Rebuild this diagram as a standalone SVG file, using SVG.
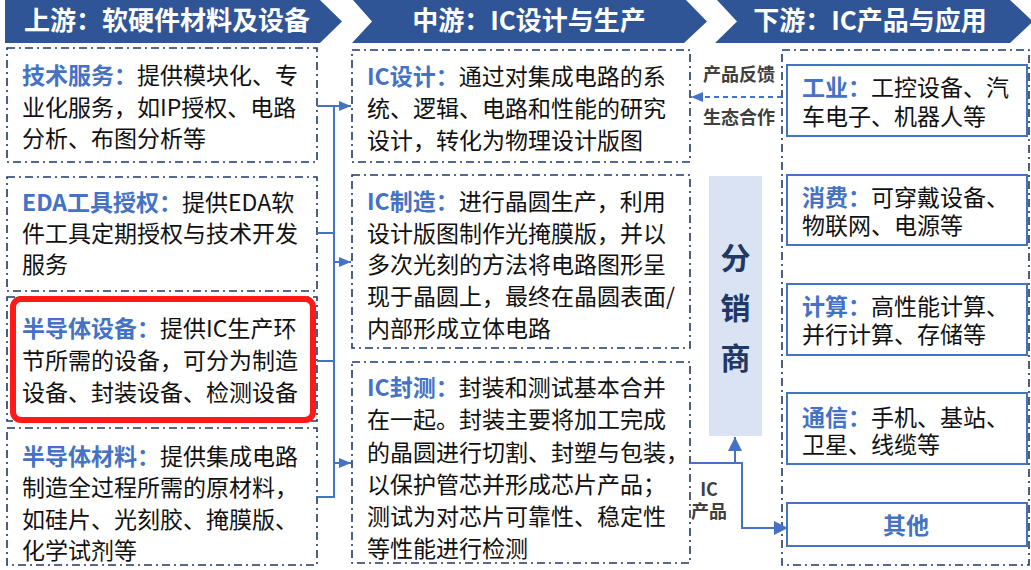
<svg xmlns="http://www.w3.org/2000/svg" width="1031" height="570" viewBox="0 0 1031 570">
<defs>
<style>
.hd{fill:#2F5597}
.ht{font-family:"Noto Sans CJK SC","Noto Sans",sans-serif;font-size:26px;font-weight:bold;fill:#fff;text-anchor:middle}
.db{fill:#fff;stroke:#1F3864;stroke-width:1.6;stroke-dasharray:8 4 2 4}
.t{font-family:"Noto Sans CJK SC","Noto Sans",sans-serif;font-size:23px;fill:#111}
.lb{font-weight:bold;fill:#4472C4}
.rb{fill:#fff;stroke:#4472C4;stroke-width:2}
.cn{fill:none;stroke:#4472C4;stroke-width:2}
.gl{font-family:"Noto Sans CJK SC","Noto Sans",sans-serif;font-size:18px;font-weight:bold;fill:#404040;text-anchor:middle}
.ds{font-family:"Noto Sans CJK SC","Noto Sans",sans-serif;font-size:30px;font-weight:bold;fill:#1F3864;text-anchor:middle}
</style>
<marker id="ah" viewBox="0 0 12 10" refX="12" refY="5" markerWidth="12" markerHeight="10" markerUnits="userSpaceOnUse" orient="auto">
<path d="M0,0 L12,5 L0,10 z" fill="#4472C4"/>
</marker>
<marker id="ah2" viewBox="0 0 14 14" refX="14" refY="7" markerWidth="14" markerHeight="14" markerUnits="userSpaceOnUse" orient="auto">
<path d="M0,0 L14,7 L0,14 z" fill="#4472C4"/>
</marker>
</defs>
<rect width="1031" height="570" fill="#fff"/>

<g id="header-upstream">
<polygon class="hd" points="5,0 320,0 342,21.5 320,43 5,43"/>
<text class="ht" x="167" y="30">上游：软硬件材料及设备</text>
</g>
<g id="header-midstream">
<polygon class="hd" points="353,0 686,0 707,21.5 684,43 352,43 372,21.5"/>
<text class="ht" x="529" y="30">中游：IC设计与生产</text>
</g>
<g id="header-downstream">
<polygon class="hd" points="717,0 1010,0 1033,21.5 1010,43 715,43 737,21.5"/>
<text class="ht" x="870" y="30">下游：IC产品与应用</text>
</g>

<g id="tech-service">
<rect class="db" x="7" y="48" width="310" height="114"/>
<text class="t"><tspan x="22" y="84"><tspan class="lb">技术服务：</tspan>提供模块化、专</tspan><tspan x="22" y="115.5">业化服务，如IP授权、电路</tspan><tspan x="22" y="147">分析、布图分析等</tspan></text>
</g>
<g id="eda">
<rect class="db" x="7" y="177" width="310" height="114"/>
<text class="t"><tspan x="22" y="211"><tspan class="lb">EDA工具授权：</tspan>提供EDA软</tspan><tspan x="22" y="242">件工具定期授权与技术开发</tspan><tspan x="22" y="273">服务</tspan></text>
</g>
<g id="semi-equipment">
<rect class="db" x="7" y="297" width="310" height="124"/>
<rect x="13" y="299" width="300" height="121" rx="8" fill="none" stroke="#FF1A1A" stroke-width="6"/>
<text class="t"><tspan x="22" y="337"><tspan class="lb">半导体设备：</tspan>提供IC生产环</tspan><tspan x="22" y="369">节所需的设备，可分为制造</tspan><tspan x="22" y="401">设备、封装设备、检测设备</tspan></text>
</g>
<g id="semi-material">
<rect class="db" x="7" y="428" width="310" height="137"/>
<text class="t"><tspan x="22" y="465"><tspan class="lb">半导体材料：</tspan>提供集成电路</tspan><tspan x="22" y="496">制造全过程所需的原材料，</tspan><tspan x="22" y="528">如硅片、光刻胶、掩膜版、</tspan><tspan x="22" y="559">化学试剂等</tspan></text>
</g>

<g id="ic-design">
<rect class="db" x="352" y="50" width="338" height="112"/>
<text class="t"><tspan x="367" y="85"><tspan class="lb">IC设计：</tspan>通过对集成电路的系</tspan><tspan x="367" y="117">统、逻辑、电路和性能的研究</tspan><tspan x="367" y="149">设计，转化为物理设计版图</tspan></text>
</g>
<g id="ic-manufacture">
<rect class="db" x="352" y="175" width="338" height="173"/>
<text class="t"><tspan x="367" y="210"><tspan class="lb">IC制造：</tspan>进行晶圆生产，利用</tspan><tspan x="367" y="242">设计版图制作光掩膜版，并以</tspan><tspan x="367" y="273">多次光刻的方法将电路图形呈</tspan><tspan x="367" y="305">现于晶圆上，最终在晶圆表面/</tspan><tspan x="367" y="337">内部形成立体电路</tspan></text>
</g>
<g id="ic-packaging">
<rect class="db" x="352" y="362" width="338" height="201"/>
<text class="t"><tspan x="367" y="396"><tspan class="lb">IC封测：</tspan>封装和测试基本合并</tspan><tspan x="367" y="428">在一起。封装主要将加工完成</tspan><tspan x="367" y="461">的晶圆进行切割、封塑与包装，</tspan><tspan x="367" y="493">以保护管芯并形成芯片产品；</tspan><tspan x="367" y="525">测试为对芯片可靠性、稳定性</tspan><tspan x="367" y="557">等性能进行检测</tspan></text>
</g>

<g id="downstream-container">
<rect class="db" x="782" y="50" width="247" height="515" fill="none"/>
</g>
<g id="distributor">
<rect x="709" y="176" width="53" height="260" fill="#DAE3F3"/>
<text class="ds"><tspan x="735.5" y="269">分</tspan><tspan x="735.5" y="318.5">销</tspan><tspan x="735.5" y="368.5">商</tspan></text>
</g>
<g id="industrial">
<rect class="rb" x="787" y="65" width="240" height="71"/>
<text class="t"><tspan x="802" y="96"><tspan class="lb">工业：</tspan>工控设备、汽</tspan><tspan x="802" y="125">车电子、机器人等</tspan></text>
</g>
<g id="consumer">
<rect class="rb" x="787" y="175" width="240" height="70"/>
<text class="t"><tspan x="802" y="206"><tspan class="lb">消费：</tspan>可穿戴设备、</tspan><tspan x="802" y="234">物联网、电源等</tspan></text>
</g>
<g id="computing">
<rect class="rb" x="787" y="284" width="240" height="71"/>
<text class="t"><tspan x="802" y="315"><tspan class="lb">计算：</tspan>高性能计算、</tspan><tspan x="802" y="343">并行计算、存储等</tspan></text>
</g>
<g id="communication">
<rect class="rb" x="787" y="393" width="240" height="71"/>
<text class="t"><tspan x="802" y="426"><tspan class="lb">通信：</tspan>手机、基站、</tspan><tspan x="802" y="453">卫星、线缆等</tspan></text>
</g>
<g id="others">
<rect class="rb" x="787" y="503" width="240" height="43"/>
<text class="t lb" x="906" y="534" text-anchor="middle">其他</text>
</g>

<g id="connectors">
<path class="cn" d="M317,106 H334 M317,233 H334 M317,361 H334 M317,497 H334 M334,105 V498"/>
<path class="cn" d="M334,106 H351" marker-end="url(#ah)"/>
<path class="cn" d="M334,262 H351" marker-end="url(#ah)"/>
<path class="cn" d="M334,463 H351" marker-end="url(#ah)"/>
<path class="cn" d="M782,97 H691" stroke-dasharray="5 4" marker-end="url(#ah)"/>
<path class="cn" d="M690,463 H742 V528 H788" marker-end="url(#ah2)"/>
<path class="cn" d="M735,463 V437" marker-end="url(#ah2)"/>
<text class="gl" x="739" y="81">产品反馈</text>
<text class="gl" x="739" y="124">生态合作</text>
<text class="gl" font-size="17" font-weight="normal"><tspan x="709" y="496">IC</tspan><tspan x="709" y="517.5">产品</tspan></text>
</g>
</svg>
